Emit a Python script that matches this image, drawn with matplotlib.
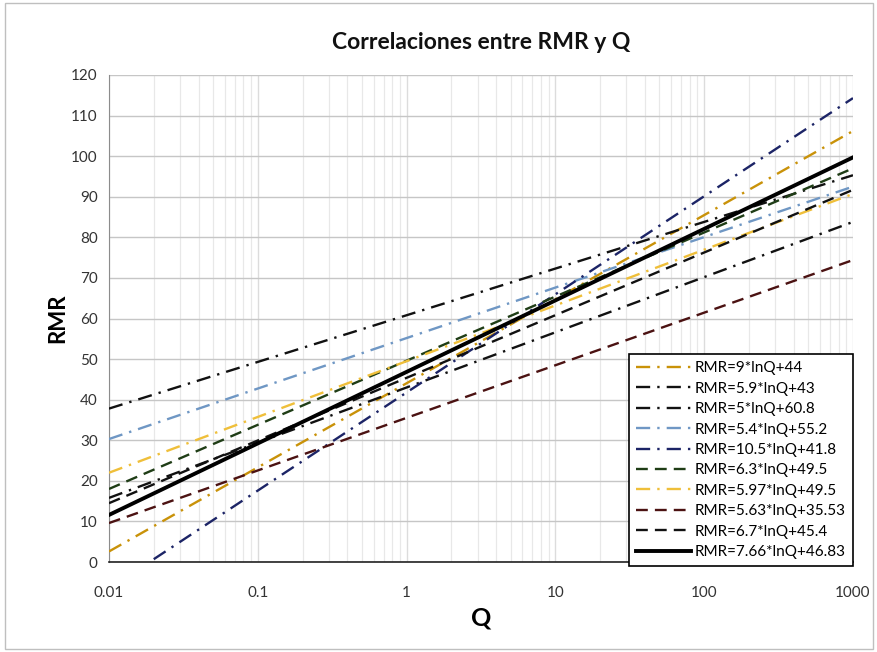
import matplotlib
matplotlib.use("Agg")
import matplotlib.pyplot as plt
from matplotlib.patches import Rectangle
from matplotlib.ticker import LogLocator, FixedLocator, FixedFormatter

plt.rcParams["font.family"] = ["Lato", "DejaVu Sans"]

# series: label, RMR read at left end (q_start) and at Q=1000
labels = ["RMR=9*lnQ+44", "RMR=5.9*lnQ+43", "RMR=5*lnQ+60.8", "RMR=5.4*lnQ+55.2",
          "RMR=10.5*lnQ+41.8", "RMR=6.3*lnQ+49.5", "RMR=5.97*lnQ+49.5",
          "RMR=5.63*lnQ+35.53", "RMR=6.7*lnQ+45.4", "RMR=7.66*lnQ+46.83"]
q_start = [0.01, 0.01, 0.01, 0.01, 0.02, 0.01, 0.01, 0.01, 0.01, 0.01]
q_end = [1000] * 10
rmr_start = [2.6, 15.8, 37.8, 30.3, 0.7, 18.0, 22.0, 9.6, 14.5, 11.6]
rmr_end = [106.2, 83.8, 95.3, 92.5, 114.3, 97.0, 90.7, 74.4, 91.7, 99.7]

colors = ["#c99209", "#111111", "#111111", "#6f97c4", "#1c2466",
          "#1f3d16", "#efbf3a", "#4b1212", "#111111", "#000000"]
dashdot = (0, (6, 3, 1, 3))
dashed = (0, (5, 3))
styles = [dashdot, dashdot, dashdot, dashdot, dashdot,
          dashed, dashdot, dashed, dashed, "-"]
widths = [1.7] * 9 + [2.8]

x_ticks = [0.01, 0.1, 1, 10, 100, 1000]
x_tick_labels = ["0.01", "0.1", "1", "10", "100", "1000"]

fig = plt.figure(figsize=(8.78, 6.52), dpi=100)
ax = fig.add_axes([0.1241, 0.138, 0.8474, 0.747])

for i in range(len(labels)):
    ax.plot([q_start[i], q_end[i]], [rmr_start[i], rmr_end[i]],
            color=colors[i], linestyle=styles[i], linewidth=widths[i],
            label=labels[i], zorder=3)

ax.set_xscale("log")
ax.set_xlim(0.01, 1000)
ax.set_ylim(0, 120)
ax.xaxis.set_major_locator(FixedLocator(x_ticks))
ax.xaxis.set_major_formatter(FixedFormatter(x_tick_labels))
ax.xaxis.set_minor_locator(LogLocator(base=10, subs=range(2, 10)))
ax.xaxis.set_minor_formatter(FixedFormatter([]))
ax.set_yticks(range(0, 121, 10))

ax.grid(True, axis="y", which="major", color="#c6c6c6", linewidth=1)
ax.grid(True, axis="x", which="major", color="#dcdcdc", linewidth=1)
ax.grid(True, axis="x", which="minor", color="#e8e8e8", linewidth=0.9)
ax.set_axisbelow(True)

for s in ["top", "right"]:
    ax.spines[s].set_visible(False)
ax.spines["left"].set_color("#8c8c8c")
ax.spines["bottom"].set_color("#222222")
ax.spines["bottom"].set_linewidth(1.2)
ax.tick_params(axis="both", which="both", length=0, labelsize=11, colors="#333333", pad=8)
ax.tick_params(axis="x", pad=17)

ax.set_title("Correlaciones entre RMR y Q", fontsize=16.5, fontweight="bold", pad=19, color="#111111")
ax.set_xlabel("Q", fontsize=18, fontweight="bold", labelpad=5)
ax.set_ylabel("RMR", fontsize=16, fontweight="bold", labelpad=2)

leg = ax.legend(loc="lower right", bbox_to_anchor=(1.0, -0.008), fontsize=11,
                frameon=True, fancybox=False, edgecolor="#000000", framealpha=1,
                handlelength=3.6, handletextpad=0.3, labelspacing=0.42,
                borderpad=0.45, borderaxespad=0)
leg.get_frame().set_linewidth(1.2)
leg.set_zorder(5)

fig.patches.append(Rectangle((0.006, 0.004), 0.988, 0.992, transform=fig.transFigure,
                             fill=False, edgecolor="#bfbfbf", linewidth=1))

fig.savefig("out.png", dpi=100)
